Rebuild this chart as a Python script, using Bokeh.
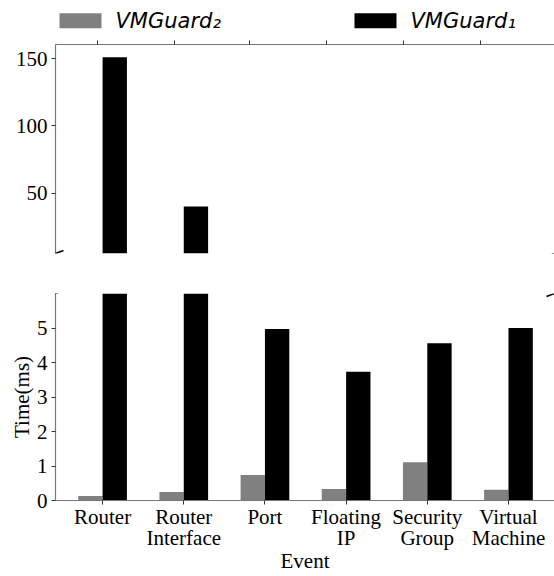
import numpy as np
from bokeh.plotting import figure
from bokeh.layouts import column
from bokeh.models import (Range1d, FixedTicker, Arrow, ColumnDataSource,
                          CustomJSTickFormatter, CDSView, BooleanFilter)
from bokeh.core.properties import value
from bokeh.transform import dodge
from bokeh.embed import file_html
from bokeh.resources import INLINE

# ---------------- data ----------------
categories = ["Router", "Router\nInterface", "Port", "Floating\nIP",
              "Security\nGroup", "Virtual\nMachine"]
vmguard2 = [0.13, 0.25, 0.74, 0.33, 1.11, 0.31]
vmguard1 = [151.0, 40.0, 4.97, 3.73, 4.56, 5.0]
low_ticks = [0, 1, 2, 3, 4, 5]
high_ticks = [50, 100, 150]
top_axis_ticks = [-0.06, 0.88, 1.81, 2.76, 3.71, 4.65]
series_labels = ["VMGuard\u2082", "VMGuard\u2081"]

# ---------------- style / layout ----------------
LOW = (0, 6)
HIGH = (5, 160.5)
XR = (-0.58, 5.567)
W = 554
LEFT = 55
BAR_W = 0.3
GRAY = "#808080"
BLACK = "#000000"
SPINE = "#777777"
TICK = "#333333"
SERIF = "Liberation Serif"
FS = "21px"
LEG_H = 36
LEG_SWATCH_X = [80, 375]      # legend layout (px in the legend strip)
LEG_TEXT_X = [115, 410]
LEG_Y = 20.3

idx = list(range(len(categories)))
src = ColumnDataSource(dict(x=idx, cat=categories, v2=vmguard2, v1=vmguard1))


def style(p):
    p.grid.visible = False
    p.outline_line_color = None
    for ax in p.axis:
        ax.axis_line_color = SPINE
        ax.axis_line_width = 1.2
        ax.major_tick_line_color = TICK
        ax.major_tick_out = 4
        ax.major_tick_in = 0
        ax.minor_tick_line_color = None
        ax.major_label_text_font = SERIF
        ax.major_label_text_font_size = FS
        ax.major_label_text_color = "black"
        ax.axis_label_text_font = SERIF
        ax.axis_label_text_font_size = FS
        ax.axis_label_text_font_style = "normal"
        ax.axis_label_text_color = "black"


def bars(p, floor):
    for col, off, color in (("v2", -BAR_W / 2, GRAY), ("v1", BAR_W / 2, BLACK)):
        vals = src.data[col]
        view = CDSView(filter=BooleanFilter([v > floor for v in vals]))
        p.vbar(x=dodge("x", off), top=col, bottom=0, width=BAR_W,
               source=src, view=view, fill_color=color, line_color=None)


def break_marks(p, yr, y_at, frame_h):
    frame_w = W - LEFT
    dx = 8 / (frame_w / (XR[1] - XR[0]))
    dy = 3 / (frame_h / (yr[1] - yr[0]))
    for xc in (XR[0], XR[1]):
        p.add_layout(Arrow(end=None, x_start=xc - dx, y_start=y_at - dy,
                           x_end=xc + dx, y_end=y_at + dy,
                           line_color="black", line_width=1.6))


# ---------------- legend strip ----------------
# (the column aligns this strip's frame with the panels' frames)
pl = figure(width=W, height=LEG_H, x_range=Range1d(LEFT, W),
            y_range=Range1d(LEG_H, 0), output_backend="svg",
            toolbar_location=None, x_axis_type=None, y_axis_type=None,
            min_border=0, min_border_left=LEFT, min_border_right=0,
            min_border_top=0, min_border_bottom=0)
pl.grid.visible = False
pl.outline_line_color = None
leg_src = ColumnDataSource(dict(sx=LEG_SWATCH_X, tx=LEG_TEXT_X,
                                y=[LEG_Y] * 2, label=series_labels,
                                color=[GRAY, BLACK]))
pl.rect(x="sx", y="y", width=42, height=15, source=leg_src,
        fill_color="color", line_color=None)
pl.text(x="tx", y="y", text="label", source=leg_src,
        text_font=value("DejaVu Sans"), text_font_style="italic",
        text_font_size="21px", text_baseline="middle", text_align="left",
        text_color="black")

# ---------------- top (high) panel ----------------
TOP_FRAME_H = 209
p1 = figure(width=W, frame_height=TOP_FRAME_H, x_range=Range1d(*XR),
            y_range=Range1d(*HIGH), x_axis_location="above",
            output_backend="svg", toolbar_location=None,
            min_border_left=LEFT, min_border_right=0,
            min_border_top=8, min_border_bottom=20)
bars(p1, HIGH[0])
style(p1)
p1.xaxis.ticker = FixedTicker(ticks=top_axis_ticks)
p1.xaxis.formatter = CustomJSTickFormatter(code="return ''")
p1.xaxis.major_label_standoff = 0
p1.yaxis.ticker = FixedTicker(ticks=high_ticks)
p1.yaxis.major_label_standoff = 4
break_marks(p1, HIGH, HIGH[0], TOP_FRAME_H)

# ---------------- bottom (low) panel ----------------
BOT_FRAME_H = 207
p2 = figure(width=W, frame_height=BOT_FRAME_H, x_range=Range1d(*XR),
            y_range=Range1d(*LOW), output_backend="svg", toolbar_location=None,
            min_border_left=LEFT, min_border_right=0,
            min_border_top=20, min_border_bottom=10)
bars(p2, LOW[0])
style(p2)
p2.xaxis.ticker = FixedTicker(ticks=idx)
p2.xaxis.major_label_overrides = {i: c for i, c in zip(idx, categories)}
p2.xaxis.major_label_standoff = 0
p2.xaxis.major_label_text_line_height = 0.9
p2.xaxis.axis_label = "Event"
p2.xaxis.axis_label_standoff = -4
p2.yaxis.ticker = FixedTicker(ticks=low_ticks)
p2.yaxis.major_label_standoff = 4
p2.yaxis.axis_label = "Time(ms)"
p2.yaxis.axis_label_standoff = 0
break_marks(p2, LOW, LOW[1], BOT_FRAME_H)

layout = column(pl, p1, p2, spacing=0)
open("out.html", "w").write(file_html(layout, INLINE))
